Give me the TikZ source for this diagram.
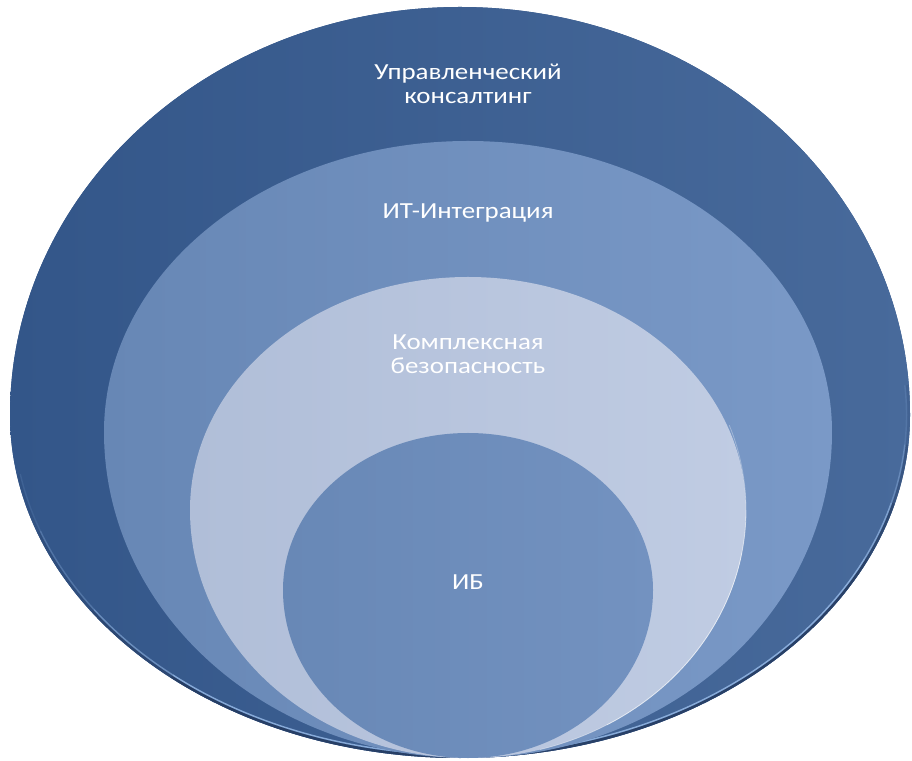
\documentclass[tikz,border=0pt]{standalone}
\usepackage{fontspec}
\setmainfont[FakeStretch=1.17]{Carlito}
\definecolor{oL}{RGB}{51,86,137}
\definecolor{oR}{RGB}{72,106,155}
\definecolor{rim}{RGB}{150,185,230}
\definecolor{rimdark}{RGB}{36,58,95}
\definecolor{mL}{RGB}{103,135,181}
\definecolor{mR}{RGB}{122,153,199}
\definecolor{lL}{RGB}{176,190,216}
\definecolor{lR}{RGB}{192,204,227}
\definecolor{iL}{RGB}{104,136,182}
\definecolor{iR}{RGB}{115,146,192}
\begin{document}
\begin{tikzpicture}[x=1pt,y=1pt,
  lbl/.style={text=white,font=\fontsize{23}{24}\selectfont,align=center,inner sep=0pt},
  egg/.style n args={5}{insert path={(#1-#3,#2) arc[start angle=180,end angle=0,x radius=#3,y radius=#4] arc[start angle=360,end angle=180,x radius=#3,y radius=#5] -- cycle}}]
\useasboundingbox (0,0) rectangle (912,760);
% outer
\fill[oL,egg={460}{345}{450}{408}{343}];
\shade[left color=oL,right color=oR,egg={460}{345}{450}{408}{343}];
\begin{scope}
\clip[egg={460}{345}{450}{408}{343}];
\begin{scope}[shift={(460,345)}]
\foreach \a/\b/\o in {365/355/0.15,355/345/0.4,345/335/0.7,335/230/0.85,230/215/0.55,215/200/0.3,200/190/0.12}{
  \draw[line width=5pt,rimdark,opacity=\o] (\a:450 and 343) arc[start angle=\a,end angle=\b,x radius=450,y radius=343];
  \draw[line width=1.4pt,rim,opacity=\o] (\a:446.5 and 339.5) arc[start angle=\a,end angle=\b,x radius=446.5,y radius=339.5];
}
\end{scope}
\end{scope}
% second
\shade[left color=mL,right color=mR,egg={468}{328}{364}{291}{326}];
% third
\shade[left color=lL,right color=lR,egg={468}{250}{278}{233}{248}];
\begin{scope}[shift={(468,250)}]
\foreach \a/\b/\o in {20/0/0.3,0/-10/0.55,-10/-60/0.7,-60/-75/0.35}{
  \draw[line width=0.8pt,white,opacity=\o] (\a:278 and 248) arc[start angle=\a,end angle=\b,x radius=278,y radius=248];
}
\end{scope}
% inner
\shade[left color=iL,right color=iR,egg={468}{170}{185}{157}{168}];
\node[lbl] (t1) at (468,676) {Управленческий\\консалтинг};
\node[lbl] (t2) at (468,547) {ИТ-Интеграция};
\node[lbl] (t3) at (468,406) {Комплексная\\безопасность};
\node[lbl] (t4) at (468,178) {ИБ};
\end{tikzpicture}
\end{document}
